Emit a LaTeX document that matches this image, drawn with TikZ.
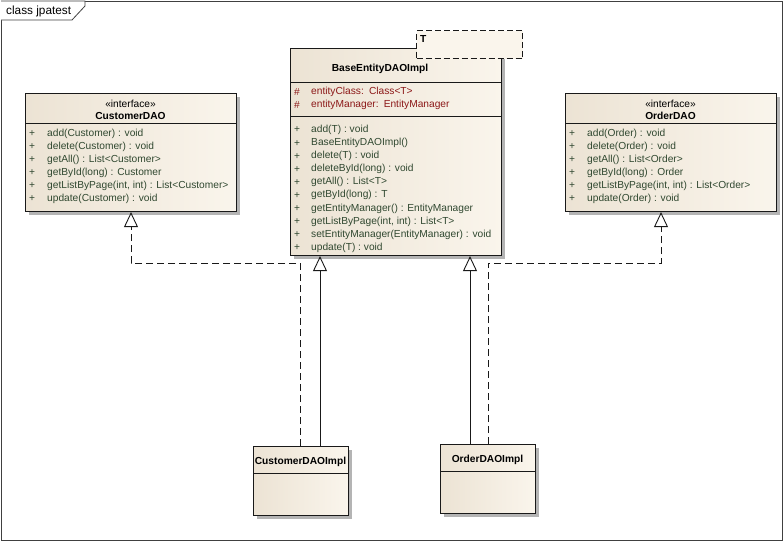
\documentclass[tikz,border=0pt]{standalone}
\usepackage{fontspec}
\setmainfont{Liberation Sans}
\usetikzlibrary{arrows.meta,shadows}
\definecolor{creme}{RGB}{250,245,236}
\definecolor{cremedunkel}{RGB}{236,227,212}
\definecolor{opgruen}{RGB}{48,72,48}
\definecolor{attrrot}{RGB}{140,24,24}
\definecolor{schatten}{RGB}{180,180,180}
\tikzset{
  rahmen/.style={draw=black!75, line width=0.8pt},
  klasse/.style={draw=black!90, line width=1.1pt, anchor=north west, inner sep=0pt,
    left color=cremedunkel, right color=creme,
    drop shadow={shadow xshift=3pt, shadow yshift=-3pt, fill=schatten, opacity=1}},
  vorlage/.style={draw=black!90, line width=1pt, dashed, dash pattern=on 6pt off 3pt,
    anchor=north west, inner sep=0pt, fill=creme},
  trenn/.style={draw=black!90, line width=1pt},
  stereo/.style={inner sep=0pt},
  titel/.style={inner sep=0pt, font=\fontsize{10.2}{12}\selectfont\bfseries},
  op/.style={anchor=west, inner sep=0pt, text=opgruen},
  plus/.style={inner sep=0pt, text=opgruen},
  attr/.style={anchor=west, inner sep=0pt, text=attrrot},
  raute/.style={inner sep=0pt, text=attrrot},
  erbt/.style={draw=black!90, line width=0.9pt, -{Triangle[open, width=14pt, length=15pt]}},
  realisiert/.style={erbt, dash pattern=on 7pt off 4pt}
}
\begin{document}
\begin{tikzpicture}[x=1pt, y=-1pt, font=\fontsize{10.2}{12}\selectfont]
  \useasboundingbox (0,0) rectangle (783,541);
  % Rahmen
  \draw[rahmen] (1,1) rectangle (782,540);
  \draw[rahmen, fill=white] (1,1) -- (85,1) -- (85,6) -- (72,20) -- (1,20);
  \node[anchor=west, inner sep=0pt, font=\fontsize{11.8}{13}\selectfont] (rahmentitel) at (6,11) {class jpatest};
  % CustomerDAO
  \node[klasse, minimum width=211pt, minimum height=118pt] (cdao) at (25,93) {};
  \draw[trenn] ([yshift=-30pt]cdao.north west) -- ([yshift=-30pt]cdao.north east);
  \node[stereo] (cdao-st) at (130.5,104) {«interface»};
  \node[titel] (cdao-name) at (130.5,116) {CustomerDAO};
  \foreach \t [count=\i from 0] in {{add(Customer) : void}, {delete(Customer) : void},
      {getAll() : List<Customer>}, {getById(long) : Customer},
      {getListByPage(int, int) : List<Customer>}, {update(Customer) : void}}
    {\node[plus] (cdao-p\i) at (32,{134+13*\i}) {+};
     \node[op] (cdao-op\i) at (47,{134+13*\i}) {\t};}
  % OrderDAO
  \node[klasse, minimum width=211pt, minimum height=118pt] (odao) at (565,93) {};
  \draw[trenn] ([yshift=-30pt]odao.north west) -- ([yshift=-30pt]odao.north east);
  \node[stereo] (odao-st) at (670.5,104) {«interface»};
  \node[titel] (odao-name) at (670.5,116) {OrderDAO};
  \foreach \t [count=\i from 0] in {{add(Order) : void}, {delete(Order) : void},
      {getAll() : List<Order>}, {getById(long) : Order},
      {getListByPage(int, int) : List<Order>}, {update(Order) : void}}
    {\node[plus] (odao-p\i) at (572,{134+13*\i}) {+};
     \node[op] (odao-op\i) at (587,{134+13*\i}) {\t};}
  % BaseEntityDAOImpl
  \node[klasse, minimum width=211pt, minimum height=207pt] (base) at (290,48) {};
  \draw[trenn] ([yshift=-34pt]base.north west) -- ([yshift=-34pt]base.north east);
  \draw[trenn] ([yshift=-68pt]base.north west) -- ([yshift=-68pt]base.north east);
  \node[titel] (base-name) at (380,69) {BaseEntityDAOImpl};
  \foreach \t [count=\i from 0] in {{entityClass:\enspace Class<T>}, {entityManager:\enspace EntityManager}}
    {\node[raute] (base-r\i) at (297,{92+13*\i}) {\#};
     \node[attr] (base-a\i) at (311,{92+13*\i}) {\t};}
  \foreach \t [count=\i from 0] in {{add(T) : void}, {BaseEntityDAOImpl()}, {delete(T) : void},
      {deleteById(long) : void}, {getAll() : List<T>}, {getById(long) : T},
      {getEntityManager() : EntityManager}, {getListByPage(int, int) : List<T>},
      {setEntityManager(EntityManager) : void}, {update(T) : void}}
    {\node[plus] (base-p\i) at (297,{130+13.07*\i}) {+};
     \node[op] (base-op\i) at (311,{130+13.07*\i}) {\t};}
  % Typparameter
  \node[vorlage, minimum width=106pt, minimum height=28pt] (tparam) at (416,30) {};
  \node[anchor=west, inner sep=0pt, font=\fontsize{10.2}{12}\selectfont\bfseries] (tparam-t) at (420,39) {T};
  % Implementierungen
  \node[klasse, minimum width=95pt, minimum height=69pt] (cimpl) at (253,446) {};
  \draw[trenn] ([yshift=-27pt]cimpl.north west) -- ([yshift=-27pt]cimpl.north east);
  \node[titel] (cimpl-name) at (300.5,461.5) {CustomerDAOImpl};
  \node[klasse, minimum width=95pt, minimum height=69pt] (oimpl) at (440,444) {};
  \draw[trenn] ([yshift=-27pt]oimpl.north west) -- ([yshift=-27pt]oimpl.north east);
  \node[titel] (oimpl-name) at (487.5,459.5) {OrderDAOImpl};
  % Verbindungen
  \coordinate (k1) at (300,263);
  \coordinate (k2) at (131,263);
  \coordinate (k3) at (320,263);
  \coordinate (k4) at (470,263);
  \coordinate (k5) at (488,263);
  \coordinate (k6) at (661,263);
  \draw[realisiert] (cimpl.north -| k1) -- (k1) -- (k2) -- (cdao.south -| k2);
  \draw[erbt] (cimpl.north -| k3) -- (base.south -| k3);
  \draw[erbt] (oimpl.north -| k4) -- (base.south -| k4);
  \draw[realisiert] (oimpl.north -| k5) -- (k5) -- (k6) -- (odao.south -| k6);
\end{tikzpicture}
\end{document}
